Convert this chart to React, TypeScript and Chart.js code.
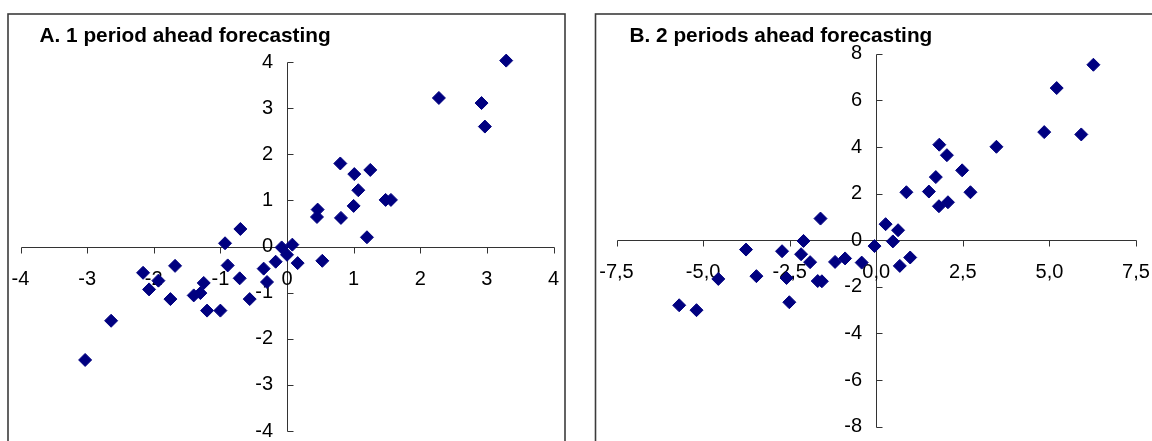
import React, { useEffect, useRef } from "react";
import { Chart, registerables } from "chart.js";

Chart.register(...registerables);

const FONT = '"Liberation Sans", Arial, Helvetica, sans-serif';
const MARKER = "#000080";

// ---------- Panel A: 1 period ahead ----------
const titleA = "A. 1 period ahead forecasting";
const xA = [3.29, 2.28, 2.92, 2.97, 0.8, 1.01, 1.25, 1.07, 1.48, 1.56, 1.0, 0.46, 0.45, 0.81, 1.2, 0.53, -0.7, -0.93, -0.08, 0.08, 0.0, 0.16, -0.17, -0.35, -0.3, -0.56, -0.71, -0.89, -1.0, -1.2, -1.25, -1.3, -1.4, -1.68, -1.75, -1.93, -2.07, -2.16, -2.64, -3.03];
const yA = [4.03, 3.22, 3.11, 2.6, 1.8, 1.57, 1.66, 1.22, 1.01, 1.01, 0.88, 0.8, 0.64, 0.62, 0.2, -0.31, 0.38, 0.07, -0.02, 0.04, -0.18, -0.36, -0.33, -0.48, -0.77, -1.14, -0.69, -0.41, -1.39, -1.39, -0.79, -1.01, -1.06, -0.42, -1.14, -0.74, -0.93, -0.57, -1.61, -2.46];
const xTicksA = [-4, -3, -2, -1, 0, 1, 2, 3, 4];
const xTickLabelsA = ["-4", "-3", "-2", "-1", "0", "1", "2", "3", "4"];
const yTicksA = [-4, -3, -2, -1, 0, 1, 2, 3, 4];
const yTickLabelsA = ["-4", "-3", "-2", "-1", "0", "1", "2", "3", "4"];

// ---------- Panel B: 2 periods ahead ----------
const titleB = "B. 2 periods ahead forecasting";
const xB = [6.27, 5.21, 4.85, 5.92, 3.47, 1.82, 2.04, 2.48, 1.72, 1.52, 2.72, 0.87, 1.81, 2.07, 0.27, 0.63, 0.48, -0.05, 0.98, 0.68, -0.42, -0.9, -1.19, -1.61, -2.1, -2.17, -1.91, -1.69, -1.57, -2.72, -2.59, -2.51, -3.46, -3.76, -4.56, -5.19, -5.69];
const yB = [7.53, 6.53, 4.64, 4.54, 4.01, 4.1, 3.65, 3.0, 2.71, 2.09, 2.06, 2.06, 1.46, 1.63, 0.69, 0.43, -0.05, -0.25, -0.74, -1.1, -0.96, -0.78, -0.93, 0.93, -0.03, -0.6, -0.94, -1.75, -1.76, -0.47, -1.62, -2.66, -1.54, -0.4, -1.66, -3.0, -2.79];
const xTicksB = [-7.5, -5, -2.5, 0, 2.5, 5, 7.5];
const xTickLabelsB = ["-7,5", "-5,0", "-2,5", "0,0", "2,5", "5,0", "7,5"];
const yTicksB = [-8, -6, -4, -2, 0, 2, 4, 6, 8];
const yTickLabelsB = ["-8", "-6", "-4", "-2", "0", "2", "4", "6", "8"];

type PanelCfg = {
  title: string;
  titleX: number;
  frameLeft: number;
  frameRight: number;
  xs: number[];
  ys: number[];
  xTicks: number[];
  xLabels: string[];
  yTicks: number[];
  yLabels: string[];
  padding: { left: number; right: number; top: number; bottom: number };
};

function makeAxesPlugin(cfg: PanelCfg) {
  return {
    id: "excelAxes",
    beforeDraw(chart: any) {
      const ctx = chart.ctx as CanvasRenderingContext2D;
      ctx.save();
      // frame
      ctx.strokeStyle = "#3c3c3c";
      ctx.lineWidth = 1.6;
      ctx.strokeRect(cfg.frameLeft, 14, cfg.frameRight - cfg.frameLeft, 480);
      // title
      ctx.fillStyle = "#000";
      ctx.font = `bold 20.8px ${FONT}`;
      ctx.textAlign = "left";
      ctx.textBaseline = "alphabetic";
      ctx.fillText(cfg.title, cfg.titleX, 41.5);
      ctx.restore();
    },
    beforeDatasetsDraw(chart: any) {
      const ctx = chart.ctx as CanvasRenderingContext2D;
      const sx = chart.scales.x;
      const sy = chart.scales.y;
      const ax = Math.round(sx.getPixelForValue(0)) + 0.5;
      const ay = Math.round(sy.getPixelForValue(0)) + 0.5;
      const x0 = sx.getPixelForValue(cfg.xTicks[0]);
      const x1 = sx.getPixelForValue(cfg.xTicks[cfg.xTicks.length - 1]);
      const y0 = sy.getPixelForValue(cfg.yTicks[0]);
      const y1 = sy.getPixelForValue(cfg.yTicks[cfg.yTicks.length - 1]);
      ctx.save();
      ctx.strokeStyle = "#333";
      ctx.lineWidth = 1;
      ctx.beginPath();
      ctx.moveTo(Math.round(x0) + 0.5, ay);
      ctx.lineTo(Math.round(x1) + 0.5, ay);
      ctx.moveTo(ax, Math.round(y0) + 0.5);
      ctx.lineTo(ax, Math.round(y1) + 0.5);
      cfg.xTicks.forEach((t) => {
        const px = Math.round(sx.getPixelForValue(t)) + 0.5;
        ctx.moveTo(px, ay);
        ctx.lineTo(px, ay + 6);
      });
      cfg.yTicks.forEach((t) => {
        const py = Math.round(sy.getPixelForValue(t)) + 0.5;
        ctx.moveTo(ax, py);
        ctx.lineTo(ax + 6, py);
      });
      ctx.stroke();

      ctx.fillStyle = "#000";
      ctx.font = `20px ${FONT}`;
      ctx.textBaseline = "middle";
      ctx.textAlign = "center";
      cfg.xTicks.forEach((t, i) => {
        ctx.fillText(cfg.xLabels[i], sx.getPixelForValue(t), ay + 32);
      });
      ctx.textAlign = "right";
      cfg.yTicks.forEach((t, i) => {
        ctx.fillText(cfg.yLabels[i], ax - 14.5, sy.getPixelForValue(t));
      });
      ctx.restore();
    },
  };
}

function Panel({ cfg }: { cfg: PanelCfg }) {
  const ref = useRef<HTMLCanvasElement | null>(null);
  useEffect(() => {
    if (!ref.current) return;
    const chart = new Chart(ref.current, {
      type: "scatter",
      data: {
        datasets: [
          {
            data: cfg.xs.map((x, i) => ({ x, y: cfg.ys[i] })),
            pointStyle: "rectRot",
            pointRadius: 6.5,
            pointHoverRadius: 6.5,
            backgroundColor: MARKER,
            borderColor: MARKER,
            borderWidth: 1,
            clip: false as any,
          },
        ],
      },
      options: {
        animation: false,
        responsive: false,
        devicePixelRatio: 1,
        events: [],
        layout: { padding: cfg.padding },
        plugins: {
          legend: { display: false },
          tooltip: { enabled: false },
          title: { display: false },
        },
        scales: {
          x: {
            type: "linear",
            min: cfg.xTicks[0],
            max: cfg.xTicks[cfg.xTicks.length - 1],
            display: false,
          },
          y: {
            type: "linear",
            min: cfg.yTicks[0],
            max: cfg.yTicks[cfg.yTicks.length - 1],
            display: false,
          },
        },
      },
      plugins: [makeAxesPlugin(cfg)],
    } as any);
    return () => chart.destroy();
  }, [cfg]);
  return (
    <canvas
      ref={ref}
      width={1152}
      height={441}
      style={{ position: "absolute", left: 0, top: 0, width: 1152, height: 441 }}
    />
  );
}

const cfgA: PanelCfg = {
  title: titleA,
  titleX: 39.5,
  frameLeft: 8,
  frameRight: 565,
  xs: xA,
  ys: yA,
  xTicks: xTicksA,
  xLabels: xTickLabelsA,
  yTicks: yTicksA,
  yLabels: yTickLabelsA,
  padding: { left: 20.5, right: 1152 - 553.5, top: 62, bottom: 441 - 431 },
};

const cfgB: PanelCfg = {
  title: titleB,
  titleX: 629.5,
  frameLeft: 595.5,
  frameRight: 1200,
  xs: xB,
  ys: yB,
  xTicks: xTicksB,
  xLabels: xTickLabelsB,
  yTicks: yTicksB,
  yLabels: yTickLabelsB,
  padding: { left: 616.5, right: 1152 - 1136, top: 53.8, bottom: 441 - 426.7 },
};

export default function App() {
  return (
    <div
      style={{
        position: "absolute",
        left: 0,
        top: 0,
        width: 1152,
        height: 441,
        background: "#fff",
        overflow: "hidden",
      }}
    >
      <Panel cfg={cfgA} />
      <Panel cfg={cfgB} />
    </div>
  );
}
